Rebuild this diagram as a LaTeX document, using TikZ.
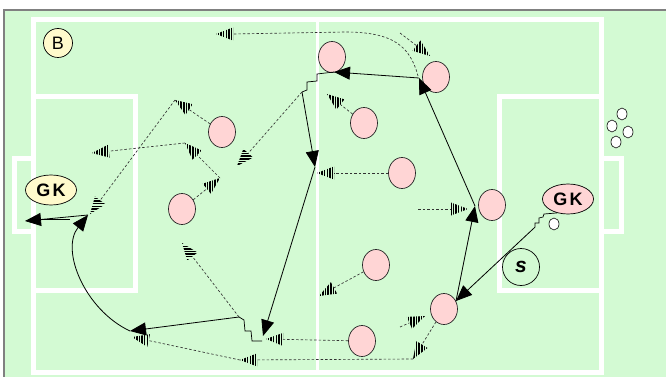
\documentclass[tikz,border=0pt]{standalone}
\usepackage{fontspec}
\setmainfont{Liberation Sans}
\usetikzlibrary{calc,arrows.meta,shapes.geometric}

\definecolor{pitch}{RGB}{211,250,211}
\definecolor{mate}{RGB}{255,213,213}
\definecolor{cream}{RGB}{255,250,204}
\definecolor{framegray}{RGB}{128,128,128}
\definecolor{runink}{RGB}{50,50,50}

\tikzset{
  lane/.style={draw=white, line width=5pt},
  player/.style={ellipse, draw=black!85, line width=0.7pt, fill=mate,
                 minimum width=27pt, minimum height=31pt, inner sep=0pt},
  keeper/.style={ellipse, draw=black, line width=0.7pt,
                 minimum width=51pt, minimum height=30pt, inner sep=0pt,
                 font=\bfseries\fontsize{18}{18}\selectfont},
  ball/.style={ellipse, draw=black, line width=0.6pt, fill=white,
               minimum width=10pt, minimum height=12pt, inner sep=0pt},
  run/.style={draw=runink, line width=0.65pt, dash pattern=on 2.5pt off 2pt},
  hatchfill/.style={draw=black, line width=28pt, dash pattern=on 1.5pt off 1.1pt},
  pass/.style={draw=black, line width=0.8pt, -{Triangle[length=16pt,width=13pt]}},
  dribble/.style={draw=black, line width=0.7pt},
}

% striped head of a run: #1 point behind the head, #2 tip, #3 half-length of the
% stroke that paints the stripes (12,0 gives upright stripes, 0,12 level ones)
\newcommand{\mvhead}[3]{%
  \coordinate (hb) at ($(#2)!17pt!(#1)$);
  \begin{scope}
    \clip (#2) -- ($(hb)!6.5pt!90:(#2)$) -- ($(hb)!6.5pt!-90:(#2)$) -- cycle;
    \draw[hatchfill] ($(hb)!0.5!(#2)-(#3)$) -- ($(hb)!0.5!(#2)+(#3)$);
  \end{scope}}
% dashed run with its striped head
\newcommand{\mvrun}[3]{%
  \coordinate (hb) at ($(#2)!17pt!(#1)$);
  \draw[run] (#1) -- (hb);
  \mvhead{#1}{#2}{#3}}

\begin{document}
\begin{tikzpicture}[x=1pt,y=-1pt]
\useasboundingbox (0,0) rectangle (666,377);
\clip (0,0) rectangle (666,377);
\fill[white] (0,0) rectangle (666,377);
\fill[pitch] (4,10) rectangle (672,383);
\draw[framegray, line width=1.8pt] (4,10) rectangle (672,383);

% pitch markings
\draw[lane] (33,20) rectangle (601,372);
\draw[lane, line width=3pt] (317,20) -- (317,372);
\draw[lane] (33,97) -- (135,97) -- (135,290) -- (33,290);
\draw[lane] (601,97) -- (499,97) -- (499,290) -- (601,290);
\draw[lane] (33,158) -- (14,158) -- (14,231) -- (33,231);
\draw[lane] (601,158) -- (621,158) -- (621,231) -- (601,231);

% group label
\node[circle, draw=black, line width=0.7pt, fill=cream, minimum size=29pt, inner sep=0pt,
      font=\fontsize{18}{18}\selectfont] (grp) at (58,43) {B};

% goalkeepers
\node[keeper, fill=cream] (gkl) at (51,190) {G\kern2.5pt K};
\node[keeper, fill=mate] (gkr) at (568,199) {G\kern2.5pt K};

% balls
\node[ball] (b0) at (554,224) {};
\node[ball] (b1) at (622,114) {};
\node[ball] (b2) at (612,126) {};
\node[ball] (b3) at (628,132) {};
\node[ball] (b4) at (616,142) {};

% server
\node[circle, draw=black, line width=0.7pt, minimum size=37pt, inner sep=0pt,
      font=\bfseries\itshape\fontsize{21}{21}\selectfont] (srv) at (521,267) {s};

% players
\node[player] (p1) at (222,132) {};
\node[player] (p2) at (182,209) {};
\node[player] (p3) at (332,57) {};
\node[player] (p4) at (436,77) {};
\node[player] (p5) at (364,123) {};
\node[player] (p6) at (402,173) {};
\node[player] (p7) at (492,205) {};
\node[player] (p8) at (376,265) {};
\node[player] (p9) at (444,309) {};
\node[player] (p10) at (362,341) {};

% ball path points
\coordinate (g1) at (533,229);
\coordinate (q9) at (456,301);
\coordinate (q7) at (475,206);
\coordinate (q4) at (419,78);
\coordinate (q3) at (334,72);
\coordinate (d3) at (302,92);
\coordinate (qa) at (315,167);
\coordinate (qb) at (263,336);
\coordinate (e8) at (262,341);
\coordinate (d8) at (239,317);
\coordinate (qc) at (130,331);
\coordinate (qd) at (88,215);
\coordinate (goal) at (25,221);
\coordinate (m1) at (42,219);
\coordinate (m2) at (70,219);

% passes and dribbles
\draw[dribble] (gkr.232) -- (544,214) -- (543,217) -- (539,218) -- (539,223)
               -- (535,223) -- (535,227) -- (g1);
\draw[pass] (g1) -- (q9);
\draw[pass] (q9) -- (q7);
\draw[pass] (q7) -- (q4);
\draw[pass] (q4) -- (q3);
\draw[dribble] (q3) -- (317,74) -- (317,81) -- (307,82) -- (307,90) -- (d3);
\draw[pass] (d3) -- (qa);
\draw[pass] (qa) -- (qb);
\draw[dribble] (e8) -- (252,341) -- (251,331) -- (245,331) -- (244,320) -- (d8);
\draw[pass] (d8) -- (qc);
\draw[pass] (qc) .. controls (85,310) and (60,250) .. (qd);
\draw[pass] (qd) -- (goal);
\draw[dribble] (m1) -- (m2);

% runs without the ball
\coordinate (u1s) at (418,76);
\coordinate (u1b) at (233,34);
\coordinate (u1) at (216,34);
\coordinate (u2s) at (400,33);
\coordinate (u2) at (430,56);
\coordinate (u3) at (327,94);
\coordinate (u4) at (317,173);
\coordinate (u5s) at (418,209);
\coordinate (u5) at (468,209);
\coordinate (u6) at (319,296);
\coordinate (u7) at (266,339);
\coordinate (u8) at (413,359);
\coordinate (u9) at (240,360);
\coordinate (u10) at (132,337);
\coordinate (u11s) at (400,327);
\coordinate (u11) at (425,316);
\coordinate (u12) at (175,100);
\coordinate (u13) at (90,214);
\coordinate (u14) at (220,178);
\coordinate (u15) at (185,143);
\coordinate (u16) at (92,153);
\coordinate (u17) at (237,166);
\coordinate (u18) at (182,243);

\draw[run] (u1s) .. controls (410,46) and (393,32) .. (345,32) -- (u1b);
\mvhead{u1b}{u1}{12,0}
\mvrun{u2s}{u2}{12,0}
\mvrun{p5}{u3}{12,0}
\mvrun{p6}{u4}{12,0}
\mvrun{u5s}{u5}{12,0}
\mvrun{p8}{u6}{12,0}
\mvrun{p10}{u7}{12,0}
\mvrun{p9}{u8}{12,0}
\mvrun{u8}{u9}{12,0}
\mvrun{u9}{u10}{12,0}
\mvrun{u11s}{u11}{12,0}
\mvrun{p1}{u12}{12,0}
\mvrun{u12}{u13}{0,12}
\mvrun{p2}{u14}{12,0}
\mvrun{u14}{u15}{12,0}
\mvrun{u15}{u16}{12,0}
\mvrun{d3}{u17}{0,12}
\mvrun{d8}{u18}{0,12}
\end{tikzpicture}
\end{document}
